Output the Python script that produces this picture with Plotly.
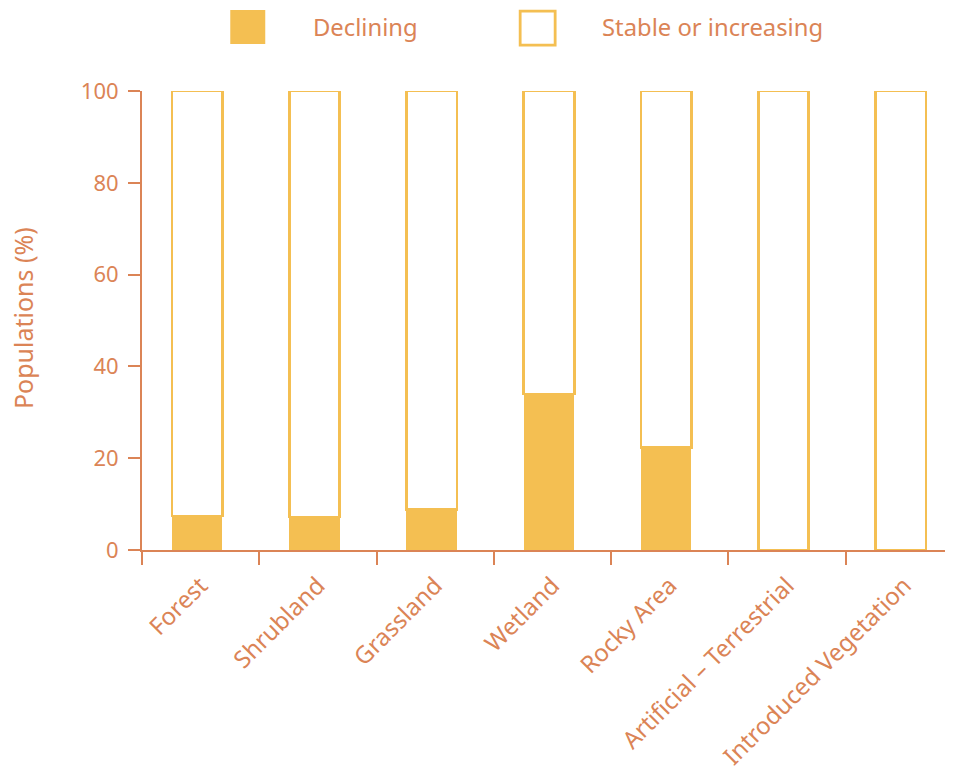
import plotly.graph_objects as go

categories = ["Forest", "Shrubland", "Grassland", "Wetland", "Rocky Area",
              "Artificial – Terrestrial", "Introduced Vegetation"]
declining = [7.4, 7.2, 8.9, 34.0, 22.4, 0, 0]
stable = [100 - v for v in declining]
y_ticks = [0, 20, 40, 60, 80, 100]

ORANGE = "#DB8456"
YELLOW = "#F4BF52"
FONT = "Noto Sans"

OFF = 8  # page body margin
SW, SH = 953, 771
W, H = SW - OFF, SH - OFF
L, T, B = 141.7, 91, 550.5   # screen coords of plot area
R = SW
pw, ph = R - L, B - T

fig = go.Figure()
fig.add_trace(go.Bar(
    x=categories, y=declining, name="Declining",
    marker=dict(color=YELLOW, line=dict(width=0)),
    width=0.43, offset=-0.245, showlegend=False,
))
fig.add_trace(go.Bar(
    x=categories, y=stable, name="Stable or increasing",
    marker=dict(color="white", line=dict(color=YELLOW, width=2.8)),
    width=0.43, offset=-0.245, showlegend=False,
))

def px(x):
    return (x - L) / pw

def py(y):
    return (B - y) / ph

shapes = [
    dict(type="rect", xref="paper", yref="paper",
         x0=px(230), x1=px(265), y0=py(44), y1=py(10),
         fillcolor=YELLOW, line=dict(width=0)),
    dict(type="rect", xref="paper", yref="paper",
         x0=px(520), x1=px(555), y0=py(45), y1=py(11),
         fillcolor="white", line=dict(color=YELLOW, width=2.8)),
]
annotations = [
    dict(text="Declining", xref="paper", yref="paper", x=px(311), y=py(27),
         xanchor="left", yanchor="middle", showarrow=False,
         font=dict(family=FONT, size=23.8, color=ORANGE)),
    dict(text="Stable or increasing", xref="paper", yref="paper", x=px(600), y=py(27),
         xanchor="left", yanchor="middle", showarrow=False,
         font=dict(family=FONT, size=23.8, color=ORANGE)),
    dict(text="Populations (%)", xref="paper", yref="paper", x=px(22), y=py(318),
         xanchor="center", yanchor="middle", textangle=-90, showarrow=False,
         font=dict(family=FONT, size=25, color=ORANGE)),
]

n = len(categories)
fig.update_layout(
    width=W, height=H,
    margin=dict(l=L - OFF, r=0, t=T - OFF, b=H - (B - OFF), autoexpand=False),
    barmode="stack",
    plot_bgcolor="white", paper_bgcolor="white",
    font=dict(family=FONT, color=ORANGE, size=22),
    shapes=shapes, annotations=annotations,
    xaxis=dict(
        type="category", categoryorder="array", categoryarray=categories,
        range=[-0.5, -0.5 + pw / ((963 - L) / n)],
        tickson="boundaries", ticks="outside", ticklen=13, tickwidth=2,
        tickcolor=ORANGE, showline=True, linecolor=ORANGE, linewidth=2,
        showgrid=False, tickangle=-45, ticklabelstandoff=10,
        tickfont=dict(family=FONT, size=24, color=ORANGE),
        automargin=False,
    ),
    yaxis=dict(
        range=[0, 100], tickvals=y_ticks, ticks="outside", ticklen=12,
        tickwidth=2, tickcolor=ORANGE, showline=True, linecolor=ORANGE,
        linewidth=2, showgrid=False, zeroline=False, ticklabelstandoff=5,
        tickfont=dict(family=FONT, size=22, color=ORANGE),
        automargin=False,
    ),
)

fig.write_html("out.html")
